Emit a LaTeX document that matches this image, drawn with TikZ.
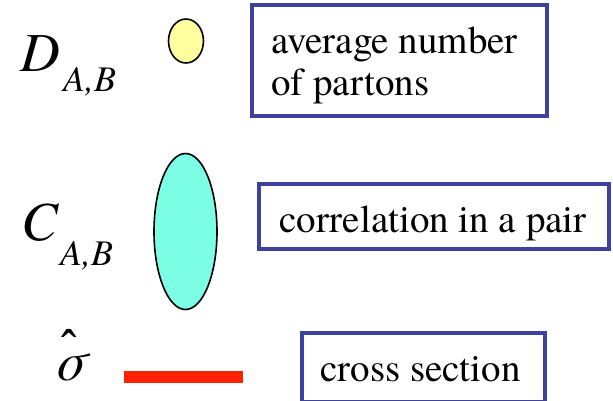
\documentclass[tikz,border=0pt]{standalone}
\usepackage{fontspec}
\setmainfont{TeX Gyre Termes}
\definecolor{boxblue}{RGB}{62,66,158}
\definecolor{pale}{RGB}{255,255,160}
\definecolor{aqua}{RGB}{125,255,230}
\definecolor{redbar}{RGB}{255,34,0}
\begin{document}
\begin{tikzpicture}[x=1pt,y=-1pt,
  lbl/.style={inner sep=0pt,anchor=base west,font=\fontsize{39}{44}\selectfont},
  sym/.style={inner sep=0pt,anchor=base west,font=\fontsize{55}{60}\selectfont\itshape},
  sub/.style={inner sep=0pt,anchor=base west,font=\fontsize{36}{40}\selectfont\itshape},
  frame/.style={draw=boxblue,line width=4pt},
  blob/.style={draw=black,line width=1.6pt}]
\useasboundingbox (0,0) rectangle (613,400);
% boxes
\draw[frame] (252,5) rectangle (547,116);
\draw[frame] (259,184) rectangle (609,249);
\draw[frame] (302,333) rectangle (545,402);
\node[lbl] (t1) at (271,53) {average number};
\node[lbl] (t2) at (271,95) {of partons};
\node[lbl] (t3) at (279,232) {correlation in a pair};
\node[lbl] (t4) at (320,381) {cross section};
% symbols
\node[sym] (D) at (20,71) {D};
\node[sub] (Dsub) at (63,91) {A,B};
\node[sym] (C) at (21,240) {C};
\node[sub] (Csub) at (60,265) {A,B};
\node[inner sep=0pt,anchor=base west,font=\fontsize{54}{58}\selectfont\itshape] (sig) at (54,380)
  {\rlap{\hspace{15pt}\raisebox{19pt}{\makebox[0pt]{\upshape\bfseries\fontsize{46}{46}\selectfont ˆ}}}σ};
% shapes
\draw[blob,fill=pale] (186,41) ellipse [x radius=17.5, y radius=22];
\draw[blob,fill=aqua] (185.5,231.5) ellipse [x radius=31.5, y radius=78];
\fill[redbar] (124,371) rectangle (243,383);
\end{tikzpicture}
\end{document}
